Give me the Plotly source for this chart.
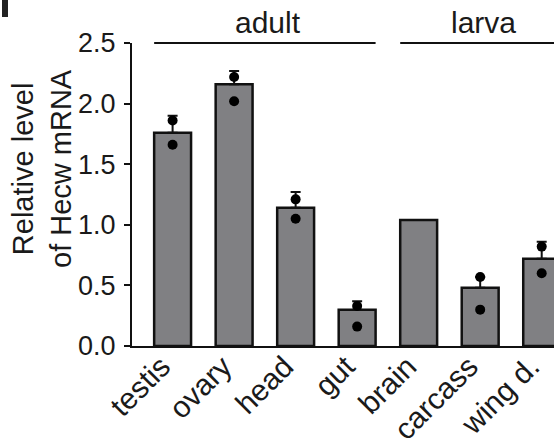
import plotly.graph_objects as go

# ---- data ----
categories = ["testis", "ovary", "head", "gut", "brain", "carcass", "wing d."]
means = [1.76, 2.16, 1.14, 0.30, 1.04, 0.48, 0.72]
err_up = [0.14, 0.11, 0.13, 0.07, 0.0, 0.09, 0.14]
rep1 = [1.86, 2.22, 1.21, 0.33, None, 0.57, 0.82]
rep2 = [1.66, 2.02, 1.05, 0.16, None, 0.30, 0.60]
groups = ["adult", "larva"]
group_members = [["testis", "ovary", "head", "gut"], ["brain", "carcass", "wing d."]]
y_ticks = [0.0, 0.5, 1.0, 1.5, 2.0, 2.5]
y_title = "Relative level<br>of Hecw mRNA"

FONT = "Liberation Sans, Arial, Helvetica, sans-serif"
INK = "#1a1a1a"
BAR_W = 0.6

W, H = 554, 438
L, R, T, B = 132, 0, 43, 92

fig = go.Figure()
idx = list(range(len(categories)))

fig.add_trace(go.Bar(
    x=idx, y=means, width=BAR_W,
    marker=dict(color="#808083", line=dict(color="#111111", width=2.5)),
    error_y=dict(type="data", symmetric=False, array=err_up,
                 arrayminus=[0] * len(err_up), color="#111111",
                 thickness=2, width=5,
                 visible=True),
    showlegend=False,
))

for reps in (rep1, rep2):
    xs = [i for i, v in zip(idx, reps) if v is not None]
    ys = [v for v in reps if v is not None]
    fig.add_trace(go.Scatter(
        x=xs, y=ys, mode="markers",
        marker=dict(color="#000000", size=10),
        showlegend=False, cliponaxis=False,
    ))

# group brackets
shapes = []
annotations = []
for g, members in zip(groups, group_members):
    i0 = categories.index(members[0]) - BAR_W / 2
    i1 = categories.index(members[-1]) + BAR_W / 2
    shapes.append(dict(type="line", xref="x", yref="paper", x0=i0, x1=i1,
                       y0=1, y1=1, line=dict(color="#111111", width=2)))
    annotations.append(dict(text=g, xref="x", yref="paper", x=(i0 + i1) / 2,
                            y=1, yanchor="bottom", xanchor="center",
                            yshift=2, xshift=3, showarrow=False,
                            font=dict(family=FONT, size=30, color=INK)))

# y-axis title
annotations.append(dict(text=y_title, xref="paper", yref="paper",
                        x=(42 - L) / (W - L - R), y=(H - B - 169) / (H - B - T),
                        xanchor="center", yanchor="middle", textangle=-90,
                        showarrow=False,
                        font=dict(family=FONT, size=29, color=INK)))

# panel-letter fragment in top-left corner
shapes.append(dict(type="rect", xref="paper", yref="paper",
                   x0=(2 - L) / (W - L - R), x1=(8 - L) / (W - L - R),
                   y0=(H - B - 17) / (H - B - T), y1=(H - B - 0) / (H - B - T),
                   fillcolor="#222222", line=dict(width=0)))

fig.update_layout(
    width=W, height=H,
    margin=dict(l=L, r=R, t=T, b=B, autoexpand=False),
    plot_bgcolor="white", paper_bgcolor="white",
    font=dict(family=FONT, color=INK),
    shapes=shapes, annotations=annotations,
    bargap=0.4,
)
fig.update_xaxes(
    range=[-0.66, 6.2], tickmode="array", tickvals=idx, ticktext=categories,
    tickangle=-45, ticks="", showline=True, linecolor="#111111", linewidth=2,
    showgrid=False, zeroline=False, tickfont=dict(family=FONT, size=30, color=INK),
    ticklabeloverflow="allow", ticklabelshift=-11, ticklabelstandoff=-11,
    automargin=False,
)
fig.update_yaxes(
    range=[0, 2.5], tickmode="array", tickvals=y_ticks,
    ticktext=[f"{v:.1f}" for v in y_ticks],
    ticks="outside", ticklen=6, tickwidth=2, tickcolor="#111111",
    showline=True, linecolor="#111111", linewidth=2, showgrid=False,
    zeroline=False, tickfont=dict(family=FONT, size=27, color=INK),
    ticklabelstandoff=3,
    automargin=False,
)

fig.write_html(
    "out.html",
    config={"displayModeBar": False},
    post_script="document.body.style.margin='0';document.body.style.overflow='hidden';",
)
